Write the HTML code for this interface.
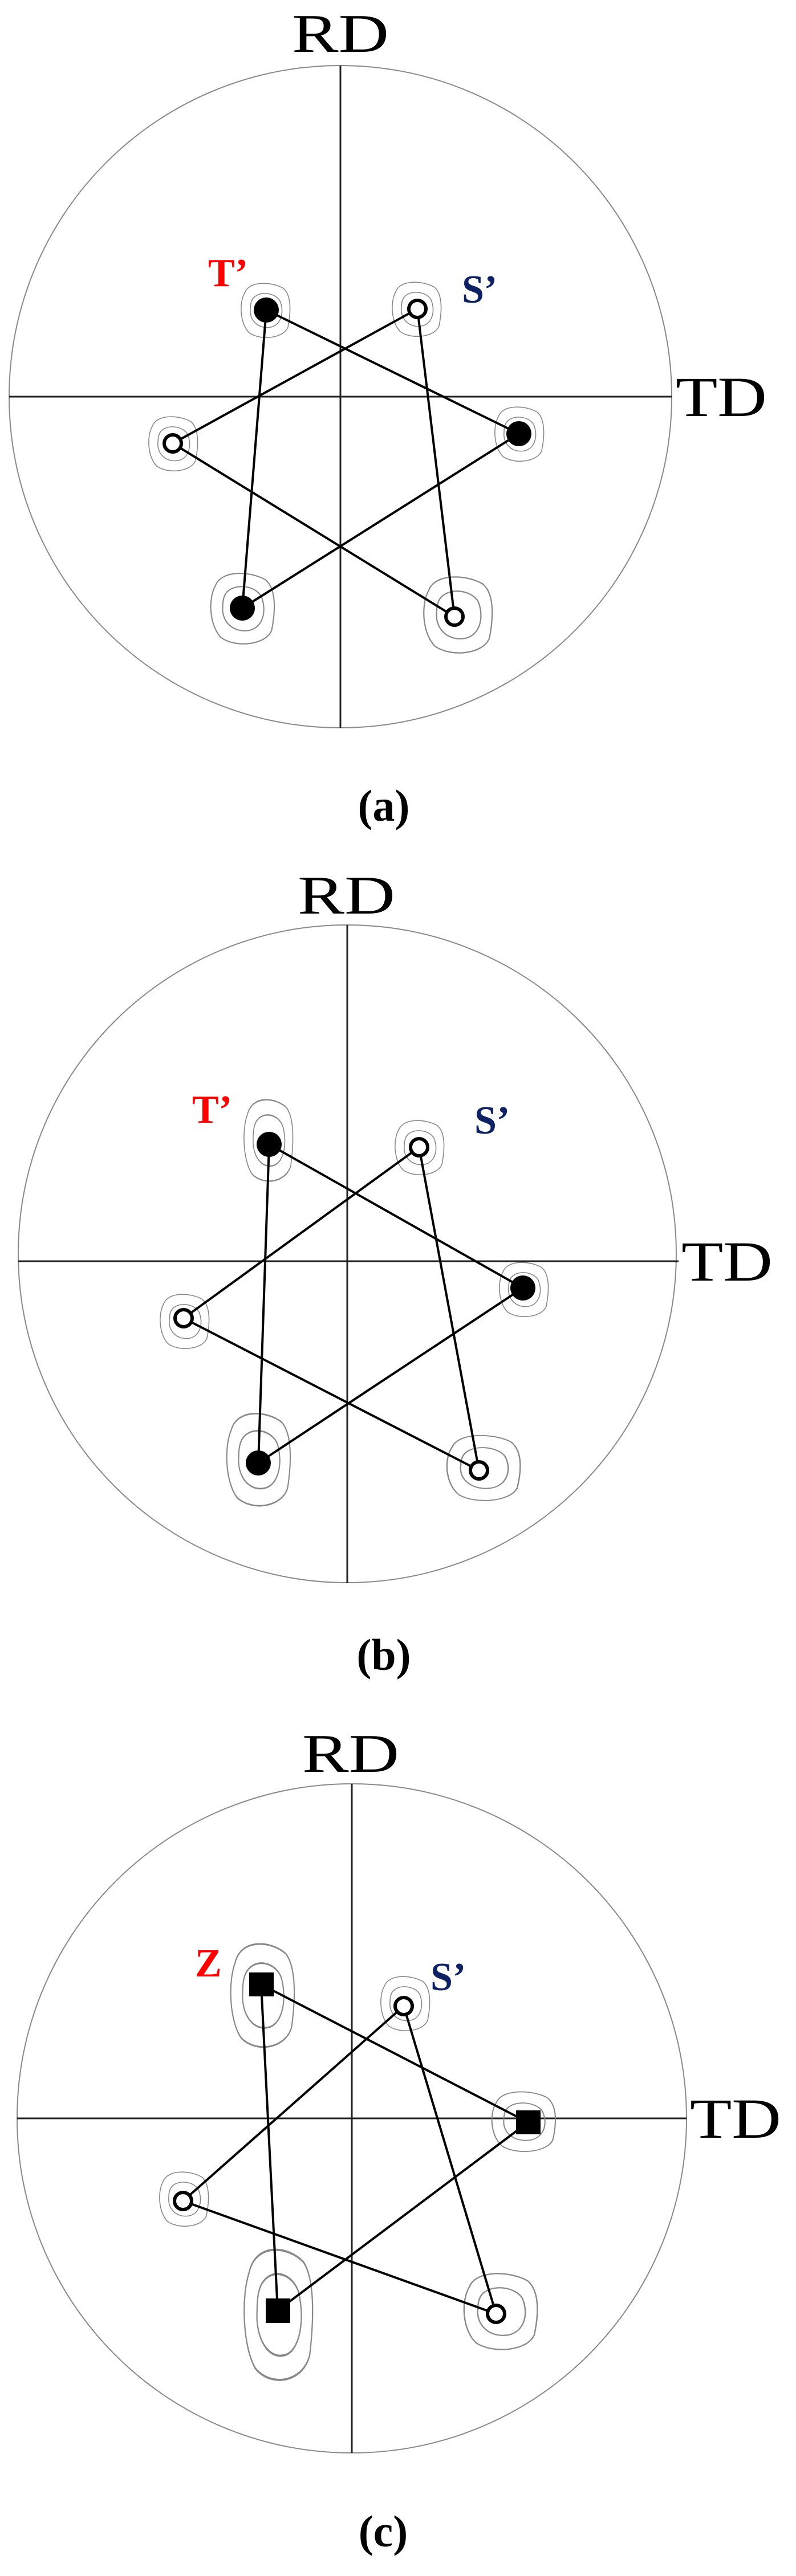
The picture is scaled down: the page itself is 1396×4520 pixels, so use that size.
<!DOCTYPE html>
<html><head><meta charset="utf-8"><style>html,body{margin:0;padding:0;background:#fff}svg{display:block}</style></head>
<body>
<svg width="1396" height="4520" viewBox="0 0 1396 4520" xmlns="http://www.w3.org/2000/svg" font-family="'Liberation Serif', serif">
<rect width="1396" height="4520" fill="#fff"/>
<defs>
<g id="ct" fill="none" stroke="#888" stroke-width="1.6">
<path d="M-38,-30 C-30,-52 10,-50 30,-38 C46,-24 42,10 38,30 C30,50 -10,54 -30,40 C-46,24 -48,-12 -38,-30 Z"/>
<path d="M-22,-22 C-10,-34 16,-30 24,-16 C32,4 26,26 8,30 C-14,34 -30,18 -28,-2 C-28,-12 -26,-18 -22,-22 Z"/>
</g>
</defs>

<!-- Panel a -->
<circle cx="597" cy="696" r="581" fill="none" stroke="#8a8a8a" stroke-width="2"/>
<line x1="16" y1="696" x2="1178" y2="696" stroke="#222" stroke-width="3"/>
<line x1="597" y1="115" x2="597" y2="1277" stroke="#222" stroke-width="3"/>
<text x="512" y="91" font-size="95" textLength="170" lengthAdjust="spacingAndGlyphs">RD</text>
<text x="1185" y="730" font-size="100" textLength="160" lengthAdjust="spacingAndGlyphs">TD</text>
<use href="#ct" x="467" y="544"/><use href="#ct" x="732" y="542"/><use href="#ct" x="912" y="761"/>
<use href="#ct" x="305" y="778"/><use href="#ct" transform="translate(427,1067) scale(1.3)"/><use href="#ct" transform="translate(805,1078) scale(1.4)"/>
<g stroke="#000" stroke-width="4" fill="none">
<polygon points="467,544 910,761 425,1067"/>
<polygon points="732,542 303,778 797,1082"/>
</g>
<circle cx="467" cy="544" r="22"/><circle cx="910" cy="761" r="22"/><circle cx="425" cy="1067" r="22"/>
<g fill="#fff" stroke="#000" stroke-width="6"><circle cx="732" cy="542" r="15"/><circle cx="303" cy="778" r="15"/><circle cx="797" cy="1082" r="15"/></g>
<text x="365" y="502" font-size="70" font-weight="bold" fill="#ff0000">T’</text>
<text x="810" y="531" font-size="70" font-weight="bold" fill="#0d2163">S’</text>
<text x="673" y="1440" font-size="78" font-weight="bold" text-anchor="middle">(a)</text>

<!-- Panel b -->
<circle cx="609" cy="2200" r="577" fill="none" stroke="#8a8a8a" stroke-width="2"/>
<line x1="32" y1="2213" x2="1190" y2="2213" stroke="#222" stroke-width="3"/>
<line x1="609" y1="1623" x2="609" y2="2778" stroke="#222" stroke-width="3"/>
<text x="522" y="1603" font-size="95" textLength="171" lengthAdjust="spacingAndGlyphs">RD</text>
<text x="1195" y="2247" font-size="100" textLength="160" lengthAdjust="spacingAndGlyphs">TD</text>
<use href="#ct" transform="translate(472,2000) scale(1,1.5)"/><use href="#ct" x="737" y="2013"/><use href="#ct" x="920" y="2262"/>
<use href="#ct" x="325" y="2318"/><use href="#ct" transform="translate(455,2560) scale(1.3,1.7)"/><use href="#ct" transform="translate(850,2575) scale(1.5,1.2)"/>
<g stroke="#000" stroke-width="4" fill="none">
<polygon points="472,2008 917,2260 453,2567"/>
<polygon points="735,2013 322,2313 840,2580"/>
</g>
<circle cx="472" cy="2008" r="22"/><circle cx="917" cy="2260" r="22"/><circle cx="453" cy="2567" r="22"/>
<g fill="#fff" stroke="#000" stroke-width="6"><circle cx="735" cy="2013" r="15"/><circle cx="322" cy="2313" r="15"/><circle cx="840" cy="2580" r="15"/></g>
<text x="337" y="1970" font-size="70" font-weight="bold" fill="#ff0000">T’</text>
<text x="832" y="1989" font-size="70" font-weight="bold" fill="#0d2163">S’</text>
<text x="673" y="2930" font-size="78" font-weight="bold" text-anchor="middle">(b)</text>

<!-- Panel c -->
<circle cx="617" cy="3717" r="587" fill="none" stroke="#8a8a8a" stroke-width="2"/>
<line x1="30" y1="3717" x2="1204" y2="3717" stroke="#222" stroke-width="3"/>
<line x1="617" y1="3130" x2="617" y2="4304" stroke="#222" stroke-width="3"/>
<text x="530" y="3109" font-size="95" textLength="170" lengthAdjust="spacingAndGlyphs">RD</text>
<text x="1210" y="3751" font-size="100" textLength="160" lengthAdjust="spacingAndGlyphs">TD</text>
<use href="#ct" transform="translate(462,3500) scale(1.3,1.9)"/><use href="#ct" x="712" y="3515"/><use href="#ct" transform="translate(920,3722) scale(1.3,1.1)"/>
<use href="#ct" x="324" y="3858"/><use href="#ct" transform="translate(490,4060) scale(1.4,2.4)"/><use href="#ct" transform="translate(880,4055) scale(1.5,1.4)"/>
<g stroke="#000" stroke-width="4" fill="none">
<polygon points="458,3482 926,3724 487,4054"/>
<polygon points="708,3520 321,3862 870,4060"/>
</g>
<rect x="437" y="3461" width="43" height="42"/><rect x="905" y="3703" width="43" height="42"/><rect x="466" y="4033" width="43" height="43"/>
<g fill="#fff" stroke="#000" stroke-width="6"><circle cx="708" cy="3520" r="15"/><circle cx="321" cy="3862" r="15"/><circle cx="870" cy="4060" r="15"/></g>
<text x="342" y="3468" font-size="70" font-weight="bold" fill="#ff0000">Z</text>
<text x="755" y="3492" font-size="70" font-weight="bold" fill="#0d2163">S’</text>
<text x="672" y="4468" font-size="78" font-weight="bold" text-anchor="middle">(c)</text>
</svg>
</body></html>
